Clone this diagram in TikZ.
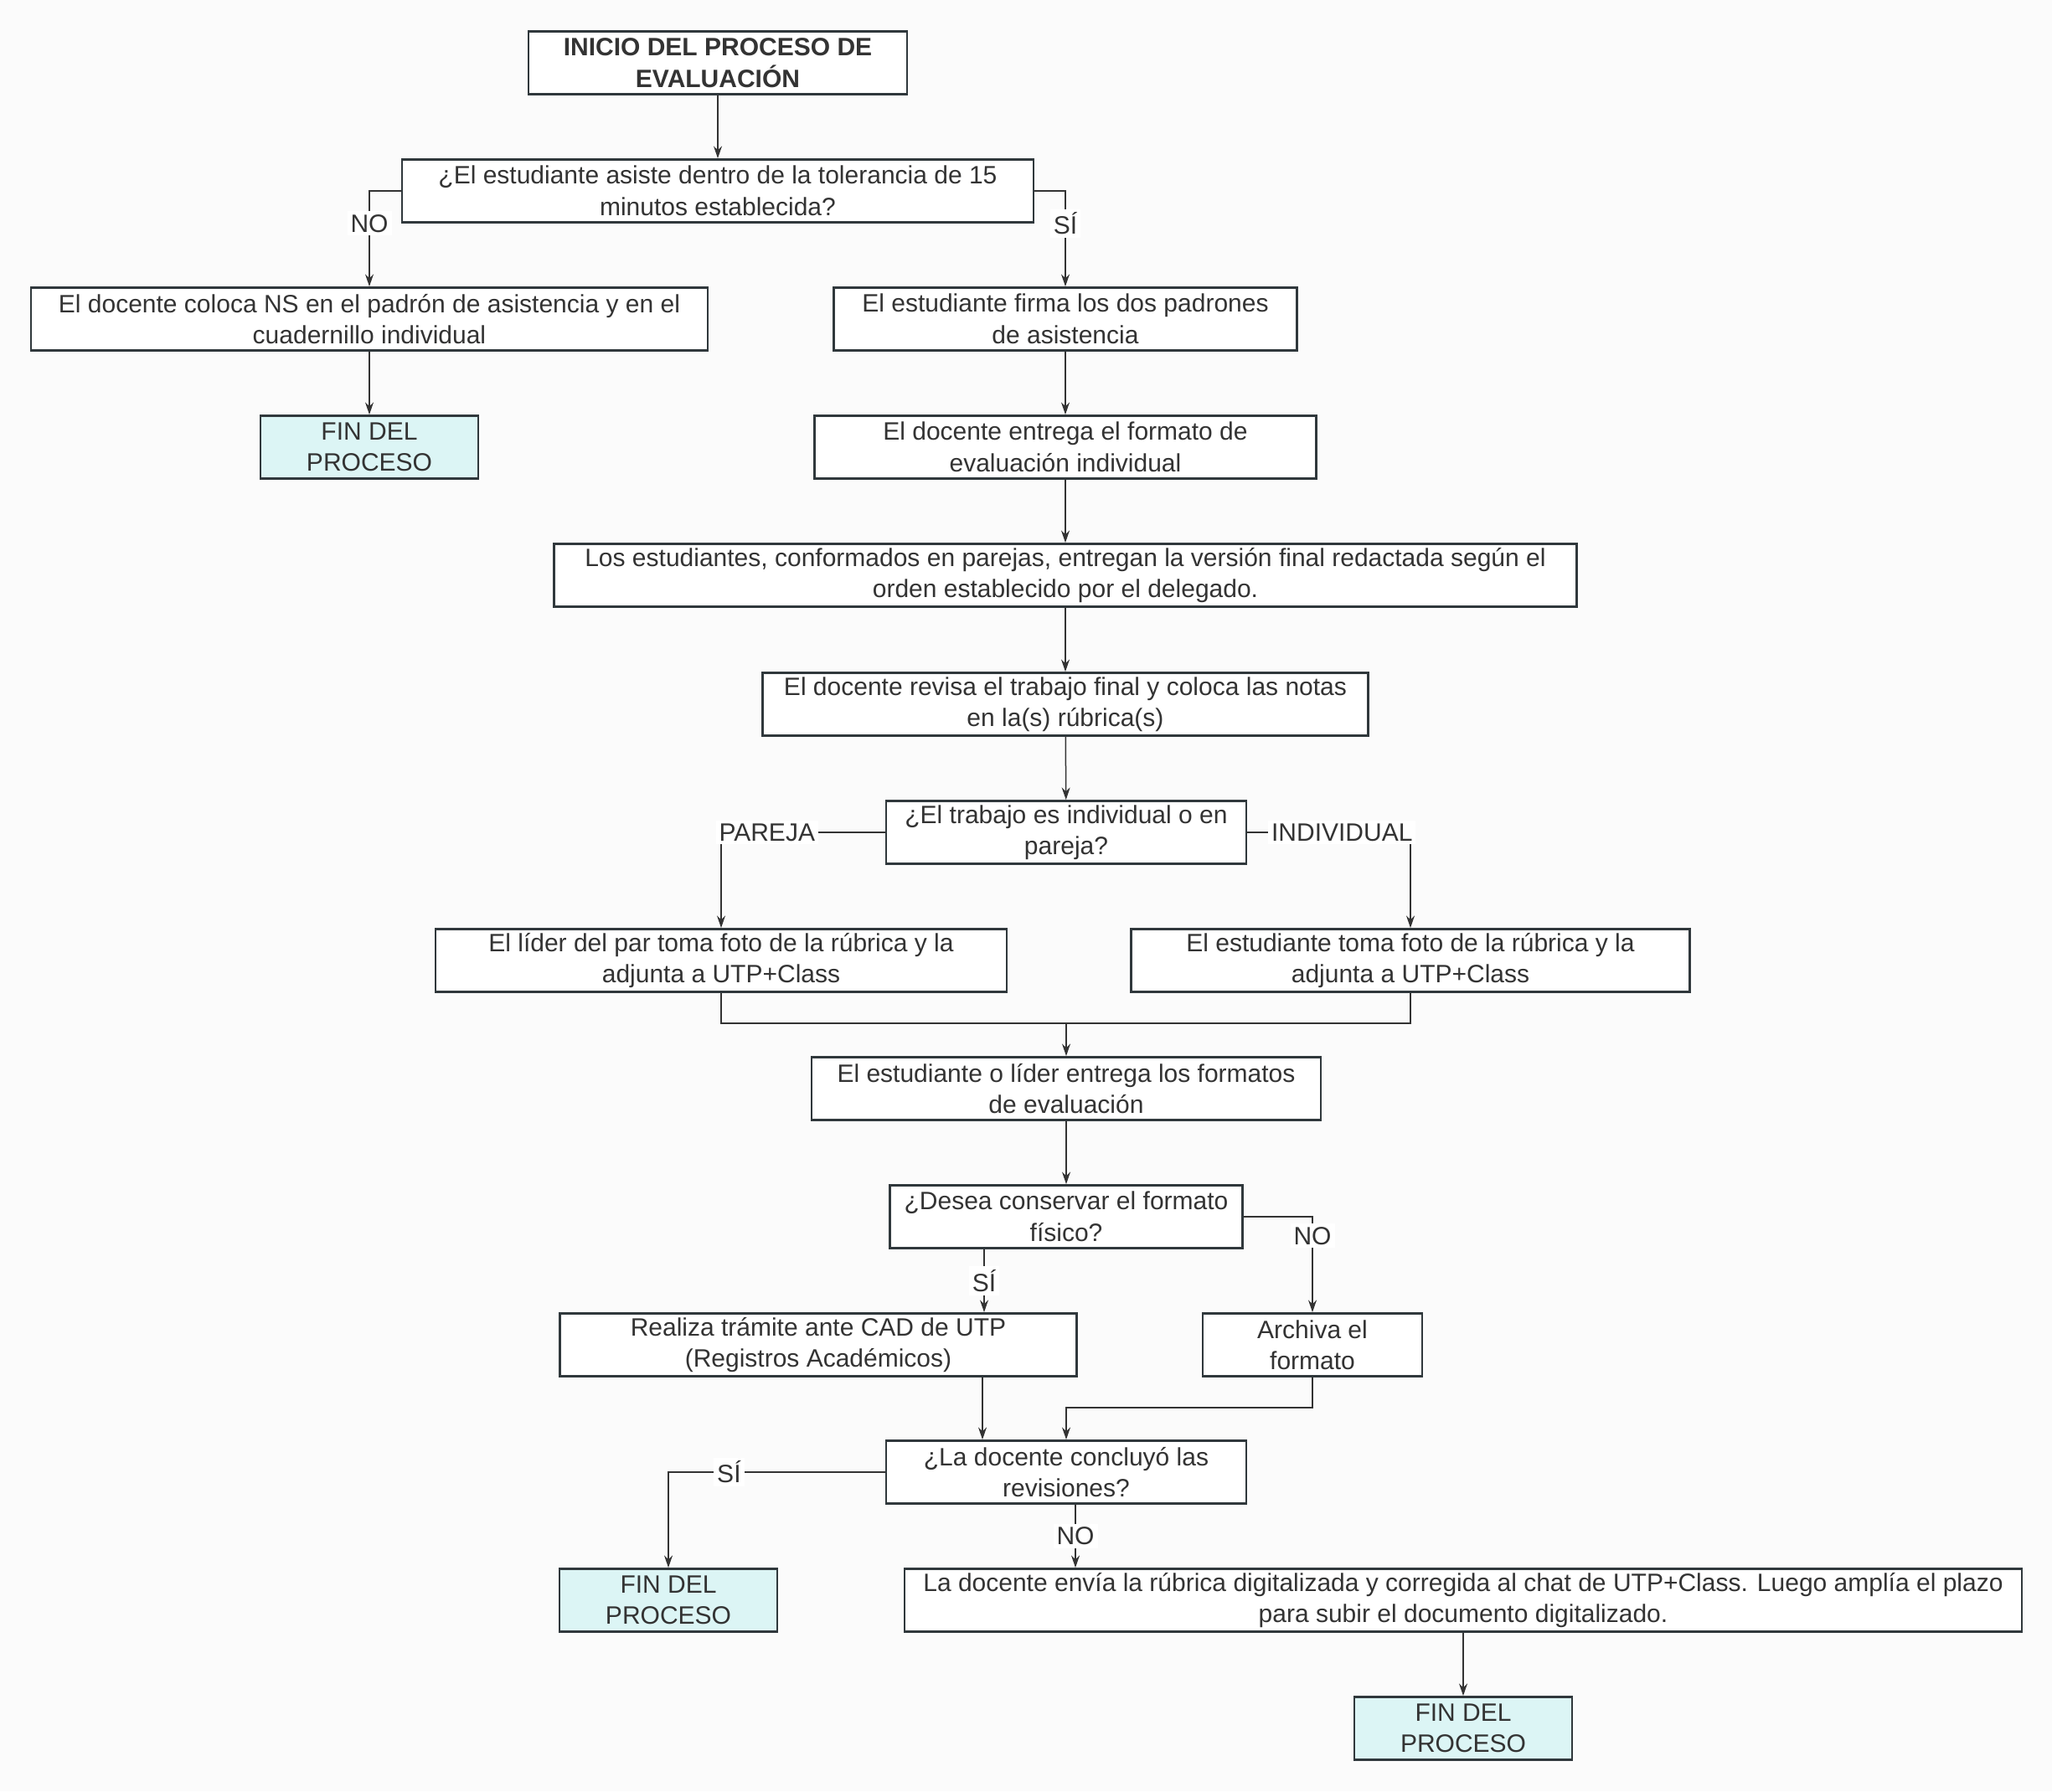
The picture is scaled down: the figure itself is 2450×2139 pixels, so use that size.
\documentclass[tikz,border=0pt]{standalone}
\usepackage{fontspec}
\setmainfont{Liberation Sans}
\usepackage{tikz}
\usetikzlibrary{positioning,calc,arrows.meta}
\definecolor{ink}     {HTML}{333333}
\definecolor{frame}   {HTML}{30383C}
\definecolor{paper}   {HTML}{FBFBFB}
\definecolor{finfill} {HTML}{DCF5F5}
\tikzset{
  >={Stealth[length=4.4pt,width=3pt]},
  every node/.style={font=\fontsize{9}{11.25}\selectfont, text=ink},
  % --- nodes
  mod/.style   = {draw=frame, fill=white, align=center, inner sep=0pt,
                  line width=0.85pt, minimum height=22.5pt},
  fin/.style   = {mod, fill=finfill, minimum width=78pt},
  lbl/.style   = {fill=white, inner sep=1.2pt},
  % --- edges
  e/.style     = {->, line width=0.45pt, draw=ink},
  ln/.style    = {line width=0.45pt, draw=ink},
}

\begin{document}
\begin{tikzpicture}[x=0.3pt,y=-0.3pt]
  \fill[paper] (0,0) rectangle (2450,2139);

  % start and attendance
  \node[mod, minimum width=135.6pt] (inicio) at (857,75) {\textbf{INICIO DEL PROCESO DE}\\\textbf{EVALUACIÓN}};
  \node[mod, minimum width=226.2pt] (asiste) at (857,228) {¿El estudiante asiste dentro de la tolerancia de 15\\minutos establecida?};
  \node[mod, minimum width=242.4pt] (ns) at (441,381) {El docente coloca NS en el padrón de asistencia y en el\\cuadernillo individual};
  \node[mod, minimum width=165.9pt] (firma) at (1272,381) {El estudiante firma los dos padrones\\de asistencia};
  \node[fin] (fin1) at (441,534) {FIN DEL\\PROCESO};

  % delivery and review
  \node[mod, minimum width=179.7pt] (formato) at (1272,534) {El docente entrega el formato de\\evaluación individual};
  \node[mod, minimum width=366.3pt] (parejas) at (1272,687) {Los estudiantes, conformados en parejas, entregan la versión final redactada según el\\orden establecido por el delegado.};
  \node[mod, minimum width=216.9pt] (revisa) at (1272,841) {El docente revisa el trabajo final y coloca las notas\\en la(s) rúbrica(s)};
  \node[mod, minimum width=129pt] (tipo) at (1273,994) {¿El trabajo es individual o en\\pareja?};
  \node[mod, minimum width=204.6pt] (lider) at (861,1147) {El líder del par toma foto de la rúbrica y la\\adjunta a UTP+Class};
  \node[mod, minimum width=200.1pt] (indiv) at (1684,1147) {El estudiante toma foto de la rúbrica y la\\adjunta a UTP+Class};
  \node[mod, minimum width=182.4pt] (entrega) at (1273,1300) {El estudiante o líder entrega los formatos\\de evaluación};

  % physical format
  \node[mod, minimum width=126.3pt] (fisico) at (1273,1453) {¿Desea conservar el formato\\físico?};
  \node[mod, minimum width=185.1pt] (tramite) at (977,1606) {Realiza trámite ante CAD de UTP\\(Registros Académicos)};
  \node[mod, minimum width=78.6pt] (archiva) at (1567,1606) {Archiva el\\formato};
  \node[mod, minimum width=129pt] (concluyo) at (1273,1758) {¿La docente concluyó las\\revisiones?};
  \node[fin] (fin2) at (798,1911) {FIN DEL\\PROCESO};
  \node[mod, minimum width=400.2pt] (envia) at (1747,1911) {La docente envía la rúbrica digitalizada y corregida al chat de UTP+Class. Luego amplía el plazo\\para subir el documento digitalizado.};
  \node[fin] (fin3) at (1747,2064) {FIN DEL\\PROCESO};

  % connectors
  \draw[e] (inicio) -- (asiste);
  \draw[e] (asiste.west) -| node[lbl, pos=0.67] {NO} (ns.north);
  \draw[e] (asiste.east) -| node[lbl, pos=0.67] {SÍ} (firma.north);
  \draw[e] (ns) -- (fin1);
  \draw[e] (firma) -- (formato);
  \draw[e] (formato) -- (parejas);
  \draw[e] (parejas) -- (revisa);
  \draw[e] (revisa) -- (tipo);
  \draw[e] (tipo.west) -| node[lbl, pos=0.36] {PAREJA} (lider.north);
  \draw[e] (tipo.east) -| node[lbl, pos=0.29] {INDIVIDUAL} (indiv.north);
  \coordinate (junta) at (1273,1222);
  \draw[ln] (lider.south) |- (junta) -| (indiv.south);
  \draw[e] (junta) -- (entrega.north);
  \draw[e] (entrega) -- (fisico);
  \draw[e] (fisico.east) -| node[lbl, pos=0.6] {NO} (archiva.north);
  \draw[e] ($(fisico.south)+(-98,0)$) coordinate (si3) -- node[lbl] {SÍ} (si3 |- tramite.north);
  \draw[e] ($(tramite.south)+(196,0)$) coordinate (t4) -- (t4 |- concluyo.north);
  \draw[e] (archiva.south) |- ($(concluyo.north)+(0,-38)$) -- (concluyo.north);
  \draw[e] (concluyo.west) -| node[lbl, pos=0.36] {SÍ} (fin2.north);
  \draw[e] ($(concluyo.south)+(11,0)$) coordinate (no4) -- node[lbl] {NO} (no4 |- envia.north);
  \draw[e] (envia) -- (fin3);
\end{tikzpicture}
\end{document}
